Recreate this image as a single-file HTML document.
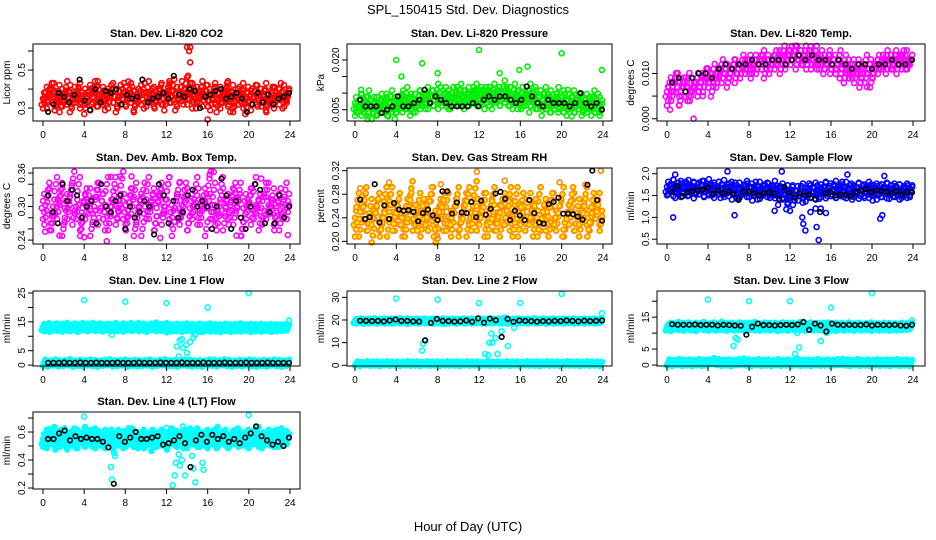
<!DOCTYPE html>
<html><head><meta charset="utf-8"><title>SPL_150415 Std. Dev. Diagnostics</title>
<style>
html,body{margin:0;padding:0;background:#fff;}
svg{display:block;font-family:"Liberation Sans",Arial,sans-serif;}
</style></head>
<body>
<svg id="chart" width="936" height="540" viewBox="0 0 936 540">
<text x="468" y="14" text-anchor="middle" font-size="13">SPL_150415  Std. Dev. Diagnostics</text>
<text x="468" y="531" text-anchor="middle" font-size="13">Hour of Day (UTC)</text>
</svg>
<script>
// ---------- data ----------
const hourTicks = [0,4,8,12,16,20,24];

const co2A = [0.35,0.38,0.33,0.40,0.36,0.32,0.39,0.37,0.34,0.41,0.35,0.31,0.38,0.36,0.40,0.33,0.37,0.35,0.39,0.32,0.36,0.41,0.34,0.38,0.35,0.37,0.33,0.40,0.36,0.31,0.39,0.35,0.38,0.34,0.40,0.36,0.32,0.37,0.39,0.35,0.33,0.41,0.36,0.38,0.34,0.37,0.40,0.35,0.32,0.39,0.36,0.42,0.38,0.34,0.41,0.37,0.43,0.35,0.40,0.33,0.38,0.36,0.41,0.34,0.39,0.37,0.32,0.40,0.35,0.38,0.33,0.36,0.41,0.34,0.39,0.31,0.37,0.35,0.40,0.33,0.38,0.36,0.32,0.39,0.35,0.37,0.34,0.40,0.31,0.36,0.38,0.33,0.37,0.35,0.39,0.34,0.36];
const co2B = [0.33,0.37,0.40,0.34,0.31,0.36,0.39,0.33,0.38,0.35,0.30,0.37,0.41,0.34,0.36,0.32,0.39,0.36,0.33,0.40,0.35,0.38,0.31,0.36,0.40,0.34,0.37,0.33,0.39,0.35,0.41,0.36,0.32,0.38,0.35,0.40,0.37,0.33,0.36,0.39,0.34,0.38,0.31,0.36,0.40,0.35,0.33,0.38,0.36,0.30,0.37,0.39,0.34,0.36,0.32,0.38,0.35,0.40,0.33,0.37];
const co2Out = [[14.0,0.62],[14.3,0.62],[14.2,0.60],[14.3,0.54],[14.1,0.47],[8.3,0.44],[16.0,0.24],[5.3,0.42],[12.3,0.43],[20.8,0.42],[22.5,0.41],[18.2,0.28],[14.5,0.43]];
const co2Black = [0.28,0.32,0.38,0.36,0.33,0.37,0.45,0.34,0.29,0.40,0.33,0.39,0.38,0.40,0.32,0.37,0.35,0.36,0.45,0.33,0.35,0.36,0.38,0.35,0.47,0.37,0.36,0.40,0.39,0.30,0.36,0.37,0.39,0.40,0.35,0.36,0.38,0.35,0.28,0.32,0.38,0.33,0.37,0.32,0.35,0.36,0.38];

const presA = [0.007,0.006,0.008,0.005,0.007,0.009,0.006,0.004,0.007,0.005,0.008,0.006,0.007,0.005,0.009,0.006,0.004,0.007,0.008,0.006,0.010,0.007,0.005,0.008,0.006,0.009,0.007,0.008,0.010,0.007,0.009,0.008,0.011,0.007,0.009,0.010,0.008,0.007,0.010,0.009,0.008,0.011,0.009,0.007,0.010,0.008,0.009,0.011,0.008,0.010,0.009,0.007,0.010,0.008,0.011,0.009,0.010,0.008,0.012,0.009,0.010,0.008,0.011,0.009,0.007,0.010,0.008,0.009,0.011,0.008,0.010,0.007,0.009,0.008,0.010,0.007,0.009,0.006,0.008,0.010,0.007,0.009,0.006,0.008,0.007,0.009,0.006,0.008,0.007,0.005,0.008,0.006,0.007,0.009,0.006,0.007,0.005];
const presB = [0.005,0.008,0.006,0.004,0.007,0.005,0.006,0.008,0.005,0.007,0.006,0.009,0.007,0.008,0.006,0.009,0.008,0.007,0.009,0.008,0.010,0.008,0.009,0.007,0.010,0.008,0.009,0.008,0.010,0.009,0.008,0.010,0.009,0.007,0.009,0.008,0.010,0.008,0.007,0.009,0.007,0.008,0.006,0.009,0.007,0.005,0.008,0.006,0.007,0.006,0.008,0.005,0.007,0.006,0.008,0.006,0.007,0.005,0.008,0.006];
const presOut = [[4.0,0.020],[6.5,0.019],[12.0,0.023],[20.0,0.022],[23.9,0.017],[16.7,0.018],[15.9,0.017],[14.0,0.016],[8.0,0.016],[4.5,0.015],[1.3,0.003],[3.2,0.003],[2.2,0.0035],[21.0,0.003],[0.6,0.011],[20.6,0.011],[12.3,0.011]];
const presBlack = [0.008,0.006,0.006,0.006,0.004,0.005,0.006,0.009,0.006,0.006,0.007,0.008,0.011,0.007,0.009,0.008,0.007,0.006,0.006,0.006,0.006,0.007,0.006,0.008,0.009,0.008,0.009,0.009,0.008,0.007,0.008,0.012,0.009,0.007,0.006,0.008,0.007,0.007,0.007,0.006,0.007,0.010,0.007,0.006,0.007,0.005];

const tempA = [0.006,0.008,0.005,0.009,0.007,0.004,0.008,0.006,0.009,0.005,0.007,0.008,0.006,0.009,0.007,0.010,0.008,0.006,0.009,0.008,0.010,0.009,0.011,0.008,0.010,0.012,0.009,0.011,0.010,0.012,0.011,0.013,0.010,0.012,0.011,0.013,0.012,0.010,0.012,0.011,0.013,0.012,0.014,0.011,0.013,0.012,0.014,0.013,0.015,0.012,0.014,0.013,0.015,0.012,0.014,0.013,0.015,0.012,0.014,0.013,0.012,0.014,0.011,0.013,0.012,0.014,0.011,0.013,0.012,0.010,0.012,0.009,0.011,0.008,0.010,0.009,0.011,0.008,0.010,0.012,0.011,0.013,0.012,0.011,0.013,0.012,0.014,0.011,0.013,0.012,0.014,0.012,0.013];
const tempB = [0.004,0.007,0.009,0.006,0.008,0.005,0.007,0.009,0.008,0.010,0.009,0.011,0.010,0.012,0.011,0.010,0.012,0.011,0.013,0.012,0.011,0.013,0.012,0.014,0.013,0.012,0.014,0.013,0.015,0.014,0.013,0.015,0.014,0.013,0.014,0.012,0.013,0.012,0.011,0.013,0.012,0.011,0.010,0.009,0.011,0.010,0.012,0.011,0.013,0.012,0.011,0.013,0.012,0.014,0.013,0.012,0.013,0.014,0.012,0.013];
const tempOut = [[0.3,0.002],[1.2,0.003],[2.6,0.000],[3.5,0.005],[12.2,0.016],[14.0,0.016],[22.8,0.014],[19.5,0.007]];
const tempBlack = [0.008,0.009,0.006,0.009,0.010,0.010,0.009,0.011,0.012,0.011,0.012,0.012,0.013,0.012,0.012,0.013,0.013,0.012,0.013,0.014,0.013,0.014,0.013,0.013,0.012,0.013,0.012,0.011,0.012,0.012,0.011,0.012,0.012,0.013,0.012,0.012,0.013];

const ambA = [0.31,0.28,0.33,0.27,0.30,0.34,0.29,0.32,0.26,0.31,0.29,0.33,0.28,0.30,0.34,0.27,0.31,0.29,0.32,0.26,0.30,0.33,0.28,0.31,0.29,0.34,0.27,0.30,0.32,0.28,0.31,0.35,0.29,0.27,0.32,0.30,0.33,0.28,0.31,0.26,0.30,0.34,0.29,0.32,0.27,0.31,0.33,0.28,0.30,0.34,0.29,0.26,0.31,0.33,0.28,0.30,0.32,0.27,0.31,0.29,0.34,0.28,0.30,0.32,0.26,0.31,0.29,0.33,0.28,0.30,0.34,0.27,0.31,0.29,0.32,0.28,0.30,0.33,0.26,0.31,0.29,0.32,0.28,0.34,0.30,0.27,0.31,0.33,0.29,0.30,0.32,0.28,0.31,0.27,0.30,0.33,0.29];
const ambB = [0.29,0.32,0.27,0.30,0.33,0.28,0.31,0.35,0.29,0.26,0.32,0.30,0.28,0.33,0.31,0.27,0.30,0.34,0.29,0.31,0.28,0.32,0.26,0.30,0.33,0.29,0.31,0.27,0.32,0.30,0.34,0.28,0.31,0.29,0.33,0.27,0.30,0.32,0.28,0.31,0.35,0.29,0.27,0.32,0.30,0.28,0.33,0.31,0.26,0.30,0.32,0.29,0.31,0.28,0.33,0.30,0.27,0.32,0.29,0.31];
const ambOut = [[0.2,0.255],[1.6,0.248],[4.0,0.245],[6.2,0.238],[6.6,0.353],[7.5,0.354],[8.6,0.354],[11.4,0.244],[13.3,0.344],[16.2,0.357],[16.6,0.362],[21.2,0.350],[23.8,0.249],[18.8,0.248]];
const ambBlack = [0.32,0.29,0.27,0.34,0.31,0.33,0.32,0.28,0.30,0.31,0.27,0.34,0.30,0.29,0.31,0.32,0.26,0.30,0.28,0.29,0.31,0.30,0.25,0.34,0.32,0.27,0.31,0.28,0.29,0.32,0.33,0.30,0.31,0.30,0.26,0.30,0.35,0.32,0.26,0.31,0.28,0.26,0.30,0.34,0.33,0.27,0.29,0.27,0.32,0.28,0.30];

const rhA = [0.24,0.27,0.22,0.25,0.28,0.23,0.26,0.21,0.25,0.27,0.23,0.24,0.26,0.22,0.28,0.25,0.23,0.27,0.24,0.22,0.26,0.25,0.29,0.23,0.24,0.27,0.22,0.25,0.26,0.23,0.28,0.24,0.21,0.26,0.25,0.23,0.27,0.24,0.22,0.26,0.28,0.23,0.25,0.27,0.22,0.24,0.26,0.29,0.23,0.25,0.27,0.22,0.24,0.26,0.28,0.23,0.25,0.22,0.27,0.24,0.26,0.23,0.25,0.28,0.22,0.24,0.26,0.23,0.27,0.25,0.22,0.24,0.28,0.23,0.26,0.25,0.22,0.27,0.24,0.23,0.26,0.28,0.22,0.25,0.24,0.27,0.23,0.26,0.22,0.25,0.28,0.24,0.23,0.26,0.25,0.27,0.24];
const rhB = [0.22,0.25,0.27,0.23,0.24,0.26,0.22,0.28,0.25,0.23,0.26,0.24,0.22,0.27,0.25,0.23,0.26,0.24,0.28,0.22,0.25,0.27,0.23,0.24,0.26,0.22,0.25,0.28,0.23,0.26,0.24,0.27,0.22,0.25,0.23,0.26,0.24,0.28,0.22,0.25,0.27,0.23,0.24,0.26,0.22,0.25,0.23,0.27,0.24,0.26,0.22,0.25,0.28,0.23,0.24,0.26,0.22,0.27,0.25,0.23];
const rhOut = [[11.8,0.318],[23.8,0.320],[19.8,0.300],[8.3,0.297],[3.3,0.300],[14.5,0.303],[0.5,0.29],[8.0,0.205],[22.3,0.296]];
const rhBlack = [0.271,0.238,0.241,0.297,0.232,0.261,0.238,0.265,0.254,0.252,0.253,0.250,0.234,0.248,0.254,0.244,0.236,0.285,0.285,0.247,0.266,0.249,0.248,0.267,0.241,0.269,0.245,0.255,0.281,0.284,0.272,0.236,0.252,0.244,0.236,0.270,0.248,0.232,0.230,0.263,0.267,0.274,0.247,0.247,0.246,0.242,0.237,0.296,0.320,0.270,0.235];

const flowA = [1.70,1.65,1.75,1.60,1.68,1.72,1.58,1.66,1.74,1.62,1.70,1.55,1.68,1.64,1.72,1.60,1.76,1.62,1.68,1.56,1.70,1.64,1.74,1.58,1.66,1.70,1.52,1.62,1.68,1.56,1.64,1.72,1.58,1.66,1.50,1.62,1.70,1.54,1.64,1.68,1.58,1.62,1.72,1.55,1.60,1.66,1.52,1.62,1.45,1.58,1.40,1.60,1.50,1.66,1.55,1.48,1.62,1.56,1.68,1.52,1.64,1.58,1.70,1.55,1.66,1.60,1.72,1.56,1.64,1.60,1.70,1.55,1.66,1.62,1.58,1.68,1.54,1.64,1.60,1.70,1.56,1.62,1.66,1.52,1.64,1.58,1.68,1.55,1.62,1.66,1.58,1.64,1.52,1.60,1.66,1.56,1.62];
const flowB = [1.62,1.74,1.56,1.66,1.70,1.60,1.68,1.64,1.72,1.58,1.66,1.62,1.70,1.56,1.64,1.60,1.68,1.54,1.62,1.66,1.58,1.70,1.52,1.60,1.66,1.56,1.62,1.40,1.55,1.30,1.62,1.50,1.60,1.45,1.66,1.58,1.62,1.54,1.68,1.60,1.64,1.56,1.70,1.58,1.62,1.52,1.66,1.60,1.56,1.64,1.50,1.62,1.58,1.66,1.54,1.60,1.64,1.56,1.62,1.58];
const flowOut = [[0.6,1.0],[6.6,1.05],[11.2,2.05],[5.9,2.05],[0.8,1.98],[13.5,0.7],[13.3,0.85],[14.8,0.48],[14.6,0.78],[10.5,1.15],[12.0,1.15],[17.6,1.98],[20.8,0.97],[21.0,1.05],[21.2,1.95],[13.2,1.0],[14.0,1.12],[14.5,1.2],[15.0,1.2],[15.5,1.1]];
const flowBlack = [1.58,1.72,1.48,1.57,1.60,1.62,1.63,1.68,1.54,1.62,1.55,1.60,1.53,1.40,1.58,1.60,1.55,1.50,1.55,1.57,1.55,1.42,1.70,1.56,1.45,1.55,1.50,1.52,1.42,1.12,1.55,1.58,1.50,1.52,1.52,1.48,1.58,1.60,1.65,1.58,1.62,1.60,1.58,1.55,1.60,1.52,1.58,1.57];

const l1Up = [13.2,12.8,13.5,12.6,13.1,13.4,12.9,13.3,12.7,13.6,13.0,12.8,13.4,13.1,12.6,13.5,13.0,13.3,12.8,13.6,13.2,12.9,13.4,13.0,12.7,13.3,13.1,12.8,13.5,13.0,12.9,13.4,12.7,13.2,13.5,12.9,13.1,13.6,12.8,13.3,13.0,12.6,13.4,13.1,13.7,12.8,13.2,12.9,13.5,12.4,13.0,12.7,13.3,12.8,13.1,12.6,13.4,12.9,13.2,12.7,13.0,13.3,12.6,13.1,12.9,13.4,12.7,13.2,12.8,13.0,12.5,13.3,12.9,13.1,12.6,13.2,12.8,13.4,12.7,13.0,12.9,13.2,12.6,13.1,12.8,13.3,12.7,13.0,12.9,13.2,12.6,13.1,12.8,13.0,12.9,13.2,13.0];
const l1Low = [0.8,0.5,0.9,0.6,0.7,1.0,0.5,0.8,0.6,0.9,0.7,0.5,0.8,1.0,0.6,0.7,0.9,0.5,0.8,0.6,0.7,0.9,0.5,0.8,1.0,0.6,0.7,0.5,0.9,0.8,0.6,0.7,0.5,0.9,0.8,0.6,1.0,0.7,0.5,0.8,0.6,0.9,0.7,0.5,0.8,0.6,0.9,0.7,0.5,0.8];
const l1Out = [[4.0,22.5],[8.0,22.0],[12.0,21.5],[16.0,20.0],[20.0,25.0],[23.9,15.5],[6.7,10.5],[13.5,9.0],[13.3,8.6],[13.0,6.5],[13.2,3.0],[13.6,6.0],[13.9,7.0],[14.0,4.2],[14.3,8.0],[14.6,9.5],[14.8,10.5],[15.5,11.5]];
const l1Black = [0.8,0.8,0.8,0.9,0.8,0.8,0.9,0.8,0.8,0.9,0.8,0.8,0.8,0.9,0.8,0.8,0.8,0.9,0.8,0.8,0.8,0.9,0.8,0.8,0.8,0.9,0.8,0.8,0.8,0.9,0.8,0.8,0.8,0.9,0.8,0.8,0.8,0.9,0.8,0.8,0.8,0.9,0.8,0.8,0.8,0.8];

const l2Up = [19.6,19.3,19.8,19.5,19.2,19.7,19.4,19.9,19.5,19.3,19.6,19.8,19.4,19.5,19.7,19.3,19.6,19.9,19.4,19.5,19.8,19.2,19.6,19.5,19.7,19.3,19.6,19.8,19.4,19.5,19.7,19.3,19.6,19.5,19.8,19.2,19.6,19.4,19.7,19.5,19.3,19.6,19.8,19.4,19.5,19.7,19.3,19.6,19.5,19.8,19.4,19.6,19.3,19.7,19.5,19.6,19.8,19.4,19.5,19.7,19.3,19.6,19.5,19.8,19.4,19.6,19.5,19.7,19.3,19.6,19.8,19.4,19.5,19.7,19.6,19.3,19.5,19.8,19.4,19.6,19.5,19.7,19.3,19.6,19.5,19.8,19.4,19.6,19.5,19.7,19.3,19.6,19.5,19.8,19.4,19.6,19.5];
const l2Low = [0.8,0.6,0.9,0.7,0.8,0.6,0.9,0.7,0.8,0.6,0.9,0.7,0.8,0.6,0.9,0.7,0.8,0.6,0.9,0.7,0.8,0.6,0.9,0.7,0.8,0.6,0.9,0.7,0.8,0.6,0.9,0.7,0.8,0.6,0.9,0.7,0.8,0.6,0.9,0.7,0.8,0.6,0.9,0.7,0.8,0.6,0.9,0.7,0.8,0.6];
const l2Out = [[4.0,29.5],[8.0,29.0],[12.0,27.5],[16.0,27.5],[20.0,31.5],[23.9,23.0],[6.5,6.5],[6.6,9.5],[6.8,11.0],[12.6,5.0],[12.9,4.5],[13.0,10.0],[13.3,10.0],[13.6,12.0],[13.8,5.0],[14.2,15.0],[14.8,8.5],[14.5,21.0],[13.2,14.0],[15.4,16.5]];
const l2Black = [19.7,19.6,19.5,19.6,19.4,19.8,20.2,19.6,19.6,19.4,19.3,11.0,18.7,20.5,19.6,19.5,19.3,19.4,19.8,19.2,20.7,18.8,20.6,19.9,12.5,20.5,19.2,19.8,19.6,19.5,19.3,19.5,19.4,19.6,19.5,19.8,19.6,19.4,19.7,19.5,19.6,19.8];

const l3Up = [11.8,12.3,11.6,12.1,12.5,11.9,12.2,11.7,12.4,12.0,11.8,12.3,11.6,12.2,12.5,11.9,12.1,11.7,12.4,12.0,11.8,12.6,11.9,12.2,11.7,12.3,12.0,11.8,12.4,11.9,12.2,11.6,12.3,12.0,12.5,11.8,12.1,11.7,12.4,11.9,12.2,11.8,12.3,12.0,11.6,12.4,11.9,12.2,11.7,12.3,12.0,11.8,12.5,11.9,12.1,11.7,12.4,12.0,11.8,12.3,11.9,12.2,11.7,12.4,12.0,11.8,12.3,11.6,12.2,12.0,11.8,12.4,11.9,12.1,11.7,12.3,12.0,11.8,12.2,11.9,12.4,11.7,12.1,12.0,11.8,12.3,11.9,12.2,11.7,12.1,12.0,11.8,12.3,11.9,12.1,12.0,12.2];
const l3Low = [0.8,0.6,0.9,0.7,0.8,0.6,0.9,0.7,0.8,1.2,0.9,0.7,0.8,0.6,0.9,1.1,0.8,0.6,0.9,0.7,0.8,0.6,0.9,0.7,0.8,0.6,0.9,0.7,0.8,0.6,0.9,0.7,0.8,0.6,0.9,1.0,0.8,0.6,0.9,0.7,0.8,0.6,0.9,0.7,0.8,0.6,0.9,0.7,0.8,0.6];
const l3Out = [[4.0,20.5],[8.0,20.0],[12.0,20.0],[16.0,18.0],[20.0,22.5],[23.9,14.0],[6.5,6.0],[6.7,8.5],[6.9,8.0],[12.5,3.5],[12.9,5.5],[12.7,10.0],[15.0,7.5],[15.6,10.0],[15.8,11.0]];
const l3Black = [12.8,12.6,12.6,12.6,12.7,12.5,12.6,12.6,12.4,12.6,12.5,12.4,12.3,9.5,12.0,13.0,12.5,12.5,12.4,12.5,12.6,12.5,12.7,13.5,11.0,13.0,12.4,10.5,13.0,12.6,12.5,12.6,12.5,12.5,12.7,12.4,12.6,12.5,12.5,12.6,12.4,12.3,12.6];

const l4A = [0.55,0.58,0.52,0.56,0.60,0.54,0.57,0.53,0.59,0.55,0.51,0.57,0.54,0.58,0.52,0.56,0.60,0.53,0.57,0.55,0.59,0.52,0.56,0.54,0.58,0.53,0.57,0.55,0.51,0.58,0.54,0.56,0.52,0.59,0.55,0.57,0.53,0.56,0.54,0.58,0.52,0.55,0.57,0.50,0.56,0.53,0.58,0.54,0.56,0.52,0.59,0.55,0.57,0.53,0.56,0.58,0.54,0.52,0.57,0.55,0.59,0.53,0.56,0.54,0.58,0.52,0.57,0.55,0.60,0.53,0.56,0.58,0.54,0.52,0.57,0.55,0.59,0.53,0.56,0.54,0.58,0.52,0.57,0.55,0.60,0.53,0.56,0.54,0.58,0.55,0.57,0.53,0.56,0.59,0.54,0.57,0.55];
const l4B = [0.53,0.57,0.55,0.51,0.58,0.54,0.56,0.59,0.52,0.56,0.54,0.58,0.53,0.57,0.55,0.52,0.58,0.56,0.54,0.57,0.53,0.59,0.55,0.52,0.56,0.54,0.58,0.53,0.57,0.55,0.51,0.58,0.54,0.56,0.52,0.59,0.55,0.57,0.53,0.56,0.54,0.58,0.52,0.57,0.55,0.53,0.58,0.56,0.54,0.57,0.53,0.59,0.55,0.52,0.56,0.54,0.58,0.53,0.57,0.55];
const l4Out = [[4.0,0.71],[20.0,0.72],[6.6,0.35],[6.7,0.26],[6.9,0.45],[7.0,0.43],[12.6,0.22],[12.8,0.29],[12.9,0.38],[13.2,0.44],[13.3,0.36],[13.5,0.40],[13.8,0.29],[14.5,0.43],[14.6,0.34],[14.8,0.24],[15.5,0.38],[15.6,0.33],[13.6,0.64],[12.0,0.63],[0.6,0.62]];
const l4Black = [0.55,0.55,0.59,0.61,0.54,0.57,0.55,0.56,0.55,0.55,0.53,0.49,0.23,0.57,0.53,0.56,0.60,0.55,0.55,0.56,0.57,0.51,0.52,0.54,0.57,0.52,0.35,0.54,0.58,0.53,0.58,0.55,0.57,0.53,0.55,0.52,0.56,0.59,0.64,0.57,0.54,0.51,0.53,0.50,0.56];

// ---------- layout ----------
const colBox = [[33,300],[347,612],[657,925]];
const colHour = [[43,290],[355,603],[667,913]];
const rowBox = [[44,121],[168,244],[291,366],[412,489]];

const panels = [
 {name:'co2',title:'Stan. Dev. Li-820 CO2',ylab:'Licor ppm',c:0,r:0,dom:[0.232,0.637],ticks:[0.3,0.4,0.5,0.6],labs:['0.3','','0.5',''],col:'#ff0000',fill:'none',spread:6,bands:[co2A,co2B],out:co2Out,blk:co2Black},
 {name:'pressure',title:'Stan. Dev. Li-820 Pressure',ylab:'kPa',c:1,r:0,dom:[0.0016,0.0248],ticks:[0.005,0.010,0.015,0.020],labs:['0.005','','','0.020'],col:'#00ee00',fill:'none',spread:6,bands:[presA,presB],out:presOut,blk:presBlack},
 {name:'temp',title:'Stan. Dev. Li-820 Temp.',ylab:'degrees C',c:2,r:0,dom:[-0.0005,0.0165],ticks:[0,0.005,0.010],labs:['0.000','','0.010'],col:'#ff00ff',fill:'none',spread:5,bands:[tempA,tempB],out:tempOut,blk:tempBlack},
 {name:'amb-box-temp',title:'Stan. Dev. Amb. Box Temp.',ylab:'degrees C',c:0,r:1,dom:[0.233,0.369],ticks:[0.24,0.26,0.28,0.30,0.32,0.34,0.36],labs:['0.24','','','0.30','','','0.36'],col:'#ff00ff',fill:'none',spread:7,bands:[ambA,ambB],out:ambOut,blk:ambBlack},
 {name:'gas-stream-rh',title:'Stan. Dev. Gas Stream RH',ylab:'percent',c:1,r:1,dom:[0.1955,0.3245],ticks:[0.20,0.24,0.28,0.32],labs:['0.20','0.24','0.28','0.32'],col:'#ff8800',fill:'#ffee00',spread:7,bands:[rhA,rhB],out:rhOut,blk:rhBlack},
 {name:'sample-flow',title:'Stan. Dev. Sample Flow',ylab:'ml/min',c:2,r:1,dom:[0.39,2.13],ticks:[0.5,1.0,1.5,2.0],labs:['0.5','1.0','1.5','2.0'],col:'#0000ff',fill:'none',spread:5,bands:[flowA,flowB],out:flowOut,blk:flowBlack},
 {name:'line1-flow',title:'Stan. Dev. Line 1 Flow',ylab:'ml/min',c:0,r:2,dom:[-0.3,25.7],ticks:[0,5,10,15,20,25],labs:['0','5','','15','','25'],col:'#00ffff',fill:'#00ffff',spread:3,bands:[l1Up,l1Low],out:l1Out,blk:l1Black},
 {name:'line2-flow',title:'Stan. Dev. Line 2 Flow',ylab:'ml/min',c:1,r:2,dom:[-0.3,32.8],ticks:[0,10,20,30],labs:['0','10','20','30'],col:'#00ffff',fill:'#00ffff',spread:2,bands:[l2Up,l2Low],out:l2Out,blk:l2Black},
 {name:'line3-flow',title:'Stan. Dev. Line 3 Flow',ylab:'ml/min',c:2,r:2,dom:[-0.3,23.2],ticks:[0,5,10,15,20],labs:['0','5','','15',''],col:'#00ffff',fill:'#00ffff',spread:3,bands:[l3Up,l3Low],out:l3Out,blk:l3Black},
 {name:'line4-flow',title:'Stan. Dev. Line 4 (LT) Flow',ylab:'ml/min',c:0,r:3,dom:[0.193,0.743],ticks:[0.2,0.3,0.4,0.5,0.6,0.7],labs:['0.2','','0.4','','0.6',''],col:'#00ffff',fill:'#00ffff',spread:5,bands:[l4A,l4B],out:l4Out,blk:l4Black}
];

const NS='http://www.w3.org/2000/svg';
const svg=document.getElementById('chart');
function mk(tag,attrs,parent){const e=document.createElementNS(NS,tag);for(const k in attrs)e.setAttribute(k,attrs[k]);parent.appendChild(e);return e;}

panels.forEach(p=>{
  const [bx0,bx1]=colBox[p.c],[hx0,hx1]=colHour[p.c],[by0,by1]=rowBox[p.r];
  const xS=h=>hx0+(h/24)*(hx1-hx0);
  const yS=v=>by1-(v-p.dom[0])/(p.dom[1]-p.dom[0])*(by1-by0);
  const g=mk('g',{},svg);
  
  
  const t=mk('text',{x:(bx0+bx1)/2,y:by0-7,'text-anchor':'middle','font-size':'11','font-weight':'bold'},g);
  t.textContent=p.title;
  
  
  const yl=mk('text',{transform:`translate(${bx0-23},${(by0+by1)/2}) rotate(-90)`,'text-anchor':'middle','font-size':'10'},g);
  yl.textContent=p.ylab;
  
  
  const marks=mk('g',{'stroke-width':'1.6'},g);
  
  
  const dotPx=(x,y,color,fill,r)=>{
    const c=mk('circle',{cx:x.toFixed(1),cy:y.toFixed(1),r:r,stroke:color,fill:fill},marks);
    
    
  };
  // dense bands: each reading drawn as a small cluster (instrument sub-samples)
  p.bands.forEach((arr,bi)=>{
    const off=bi*0.12;
    arr.forEach((v,i)=>{
      const x=xS(off+i*(23.8-off)/(arr.length-1)), y=yS(v);
      dotPx(x,y,p.col,p.fill,2.5);
      dotPx(x+1.2,y-p.spread,p.col,p.fill,2.5);
      dotPx(x-1.2,y+p.spread,p.col,p.fill,2.5);
    });
  });
  p.out.forEach(([h,v])=>dotPx(xS(h),yS(v),p.col,'none',2.5));
  p.blk.forEach((v,i)=>dotPx(xS(0.5+i*23.4/(p.blk.length-1)),yS(v),'#000','none',2.3));
  const box=mk('rect',{x:bx0,y:by0,width:bx1-bx0,height:by1-by0,fill:'none',stroke:'#000','stroke-width':'1'},g);
  
  
  const xa=mk('g',{},g);
  
  
  mk('line',{x1:xS(hourTicks[0]),x2:xS(hourTicks[hourTicks.length-1]),y1:by1,y2:by1,stroke:'#000'},xa);
  hourTicks.forEach(h=>{
    mk('line',{x1:xS(h),x2:xS(h),y1:by1,y2:by1+5,stroke:'#000'},xa);
    const tl=mk('text',{x:xS(h),y:by1+17,'text-anchor':'middle','font-size':'10'},xa);
    tl.textContent=h;
    
    
  });
  const ya=mk('g',{},g);
  
  
  mk('line',{x1:bx0,x2:bx0,y1:yS(p.ticks[0]),y2:yS(p.ticks[p.ticks.length-1]),stroke:'#000'},ya);
  p.ticks.forEach((v,i)=>{
    const y=yS(v);
    mk('line',{x1:bx0-5,x2:bx0,y1:y,y2:y,stroke:'#000'},ya);
    if(p.labs[i]){
      const tl=mk('text',{transform:`translate(${bx0-8},${y}) rotate(-90)`,'text-anchor':'middle','font-size':'10'},ya);
      tl.textContent=p.labs[i];
      
      
    }
  });
});
</script>
</body></html>
